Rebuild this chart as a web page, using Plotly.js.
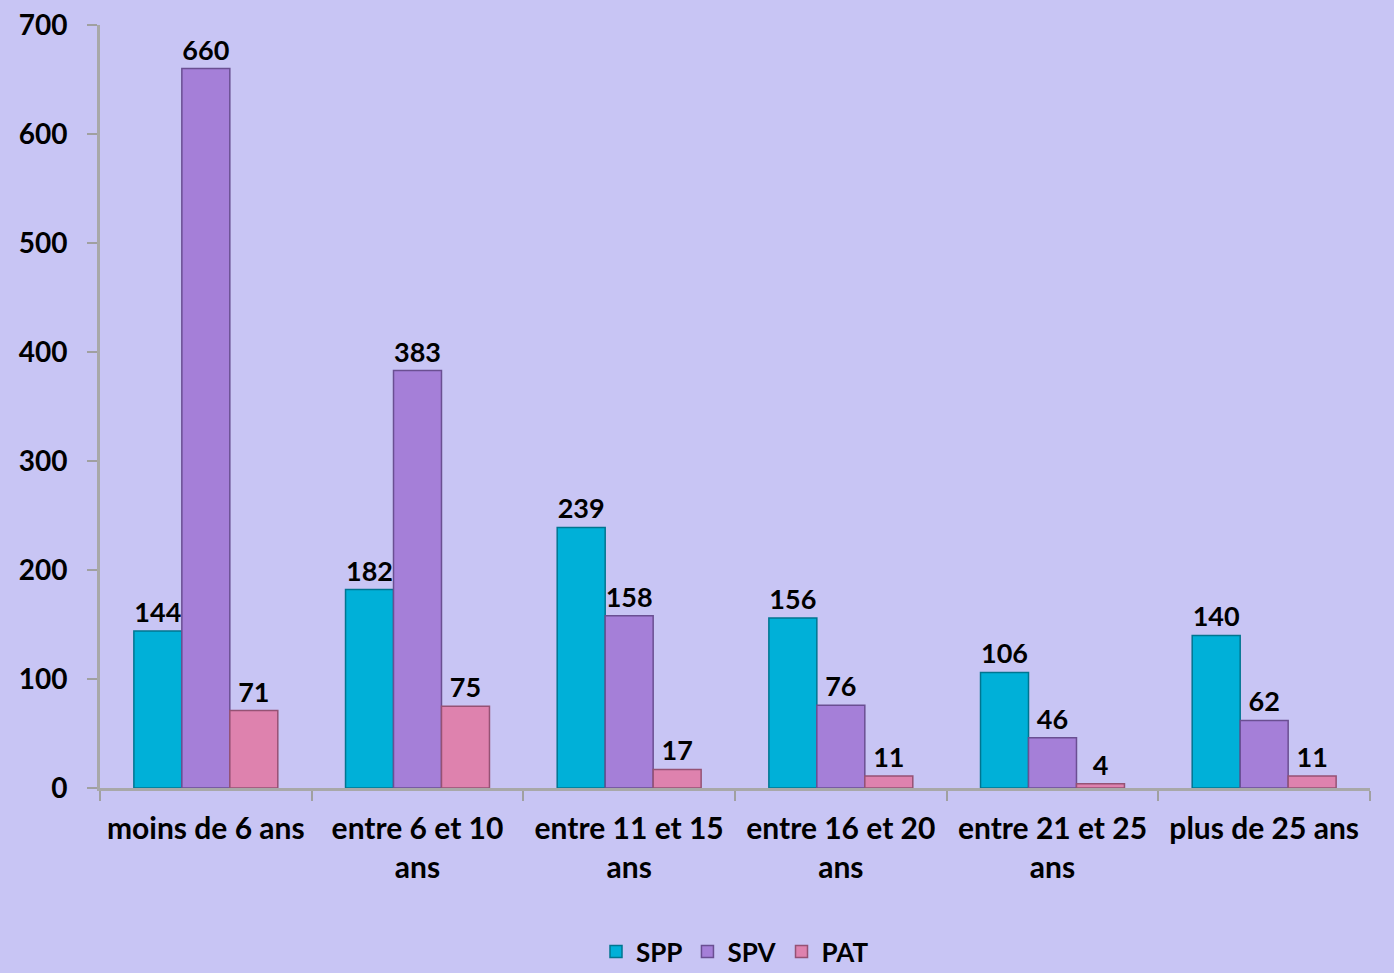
<!DOCTYPE html>
<html>
<head>
<meta charset="utf-8">
<script src="https://cdn.plot.ly/plotly-3.0.1.min.js"></script>
<style>html,body{margin:0;padding:0;background:#C8C5F4;}#chart{width:1394px;height:973px;}</style>
</head>
<body>
<div id="chart"></div>
<script>
const categories = ["moins de 6 ans", "entre 6 et 10<br>ans", "entre 11 et 15<br>ans", "entre 16 et 20<br>ans", "entre 21 et 25<br>ans", "plus de 25 ans"];
const spp = [144, 182, 239, 156, 106, 140];
const spv = [660, 383, 158, 76, 46, 62];
const pat = [71, 75, 17, 11, 4, 11];
const yTicks = [0, 100, 200, 300, 400, 500, 600, 700];

const font = "Lato, 'Open Sans', 'DejaVu Sans', sans-serif";
function series(name, vals, fill, line) {
  return {
    type: "bar", name: name, x: categories, y: vals,
    text: vals.map(String), textposition: "outside", cliponaxis: false,
    textfont: {family: font, size: 27, color: "#000", weight: 700},
    marker: {color: fill, line: {color: line, width: 1.5}}
  };
}
const data = [
  series("SPP", spp, "#00B0D8", "#007590"),
  series("SPV", spv, "#A57FD8", "#6A4F92"),
  series("PAT", pat, "#DE82AE", "#955274")
];
const layout = {
  width: 1394, height: 973,
  paper_bgcolor: "#C8C5F4", plot_bgcolor: "#C8C5F4",
  margin: {l: 100, r: 24, t: 25, b: 185},
  barmode: "group", bargap: 0.32, bargroupgap: 0,
  font: {family: font, size: 24, color: "#000"},
  xaxis: {
    type: "category", tickson: "boundaries", ticks: "outside", ticklen: 10,
    tickcolor: "#A0A0A0", tickwidth: 2, showline: true, linecolor: "#A8A8A8", linewidth: 3,
    showgrid: false, automargin: false, ticklabelstandoff: 12,
    tickfont: {family: font, size: 30, weight: 700}
  },
  yaxis: {
    range: [0, 700], tickvals: yTicks, ticks: "outside", ticklen: 10,
    tickcolor: "#A0A0A0", tickwidth: 2, showline: true, linecolor: "#A8A8A8", linewidth: 3,
    showgrid: false, zeroline: false, automargin: false,
    tickfont: {family: font, size: 28, weight: 700}, ticklabelstandoff: 14
  },
  legend: {
    orientation: "h", x: 0.5, xanchor: "center", xref: "paper",
    y: 0.022, yanchor: "middle", yref: "container",
    font: {family: font, size: 26, weight: 700}, bgcolor: "rgba(0,0,0,0)", itemwidth: 30, tracegroupgap: 0
  },
  showlegend: true
};
Plotly.newPlot("chart", data, layout, {displayModeBar: false});
</script>
</body>
</html>
